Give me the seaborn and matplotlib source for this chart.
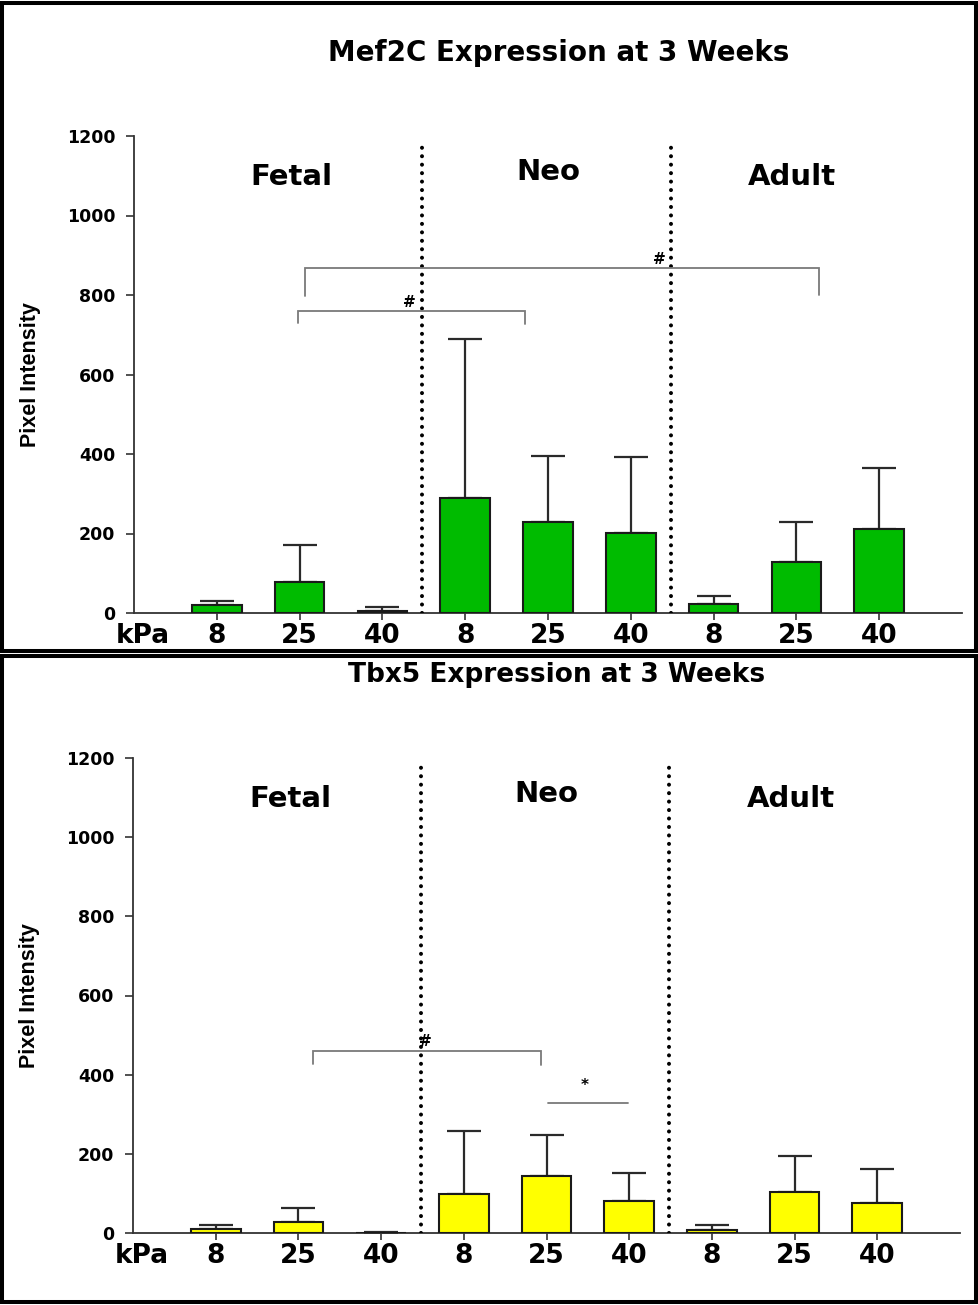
import matplotlib
matplotlib.use("Agg")
import matplotlib.pyplot as plt
from matplotlib.patches import Rectangle
import numpy as np
import pandas as pd
import seaborn as sns

# ---- data -------------------------------------------------------------
groups = ["Fetal", "Neo", "Adult"]
stiffness = ["8", "25", "40"]

mef2c_mean = [19, 79, 4, 290, 230, 201, 23, 129, 212]
mef2c_err = [12, 92, 10, 400, 164, 191, 21, 100, 152]

tbx5_mean = [10, 27, 1, 99, 143, 81, 7, 104, 77]
tbx5_err = [9, 36, 2, 158, 105, 71, 12, 91, 85]

titles = ["Mef2C Expression at 3 Weeks", "Tbx5 Expression at 3 Weeks"]
bar_colors = ["#00bb00", "#ffff00"]
y_ticks = [0, 200, 400, 600, 800, 1000, 1200]

# significance brackets: (x_left, x_right, y_line, y_drop_left, y_drop_right, label, label_x, label_y)
mef2c_brackets = [
    (0.98, 3.72, 759, 730, 728, "#", 2.32, 782),
    (1.06, 7.27, 867, 798, 800, "#", 5.34, 890),
]
tbx5_brackets = [
    (1.18, 3.93, 461, 428, 425, "#", 2.54, 483),
    (4.02, 4.99, 329, 329, 329, "*", 4.46, 372),
]

# ---- style ------------------------------------------------------------
sns.set_theme(style="ticks")
plt.rcParams["font.family"] = ["DejaVu Sans"]
plt.rcParams.update({
    "text.color": "black",
    "axes.labelcolor": "black",
    "xtick.color": "black",
    "ytick.color": "black",
})

fig = plt.figure(figsize=(9.79, 13.05), dpi=100)
W, H = 979.0, 1305.0
ax_top = fig.add_axes([134 / W, 1 - 613 / H, 828 / W, 477 / H])
ax_bot = fig.add_axes([133 / W, 1 - 1233 / H, 827 / W, 475 / H])

cats = [f"{g} {s}" for g in groups for s in stiffness]
tick_labels = [s for g in groups for s in stiffness]


def draw_panel(ax, means, errs, color, brackets):
    df = pd.DataFrame({"condition": cats, "intensity": means})
    sns.barplot(data=df, x="condition", y="intensity", order=cats,
                color=color, saturation=1, edgecolor="#1a1a1a", linewidth=1.5,
                width=0.6, errorbar=None, ax=ax, zorder=3)
    xs = np.arange(len(cats))
    ax.errorbar(xs, means, yerr=[np.zeros(len(errs)), errs], fmt="none",
                ecolor="#2a2a2a", elinewidth=1.6, capsize=12.5, capthick=1.6,
                zorder=2)

    ax.set_xlim(-1.0, 9.0)
    ax.set_ylim(0, 1200)
    ax.set_yticks(y_ticks)
    ax.set_yticklabels([str(v) for v in y_ticks], fontsize=12.5,
                       fontweight="bold")
    ax.set_xticks(xs)
    ax.set_xticklabels(tick_labels, fontsize=19, fontweight="bold")
    ax.tick_params(axis="y", direction="out", length=6, width=1.2,
                   pad=7.5, color="#333333")
    ax.tick_params(axis="x", direction="out", length=5, width=1.2,
                   pad=2.5, color="#333333")
    for side in ("top", "right"):
        ax.spines[side].set_visible(False)
    for side in ("left", "bottom"):
        ax.spines[side].set_linewidth(1.3)
        ax.spines[side].set_color("#333333")

    ax.set_xlabel("")
    ax.set_ylabel("Pixel Intensity", fontsize=15.5, fontweight="bold",
                  family=["Liberation Sans", "DejaVu Sans"])
    ax.yaxis.set_label_coords(-0.112, 0.5)

    ax.annotate("kPa", xy=(-0.89, 0), xycoords=("data", "axes fraction"),
                xytext=(0, -7.5), textcoords="offset points",
                ha="center", va="top", fontsize=19, fontweight="bold")

    # group dividers
    for xd in (2.48, 5.48):
        ax.plot([xd, xd], [0, 1180], color="black", lw=2.9,
                linestyle=(0, (0.01, 2.09)), dash_capstyle="round",
                zorder=4)

    # group names
    for name, gx, gy in zip(groups, (0.9, 4.0, 6.95), (1097, 1110, 1097)):
        ax.text(gx, gy, name, ha="center", va="center", fontsize=21,
                fontweight="bold")

    # significance brackets
    for x0, x1, yl, yd0, yd1, lab, lx, ly in brackets:
        ax.plot([x0, x0, x1, x1], [yd0, yl, yl, yd1], color="#7a7a7a",
                lw=1.3, zorder=5, solid_joinstyle="miter")
        ax.text(lx, ly, lab, ha="center", va="center", fontsize=11,
                fontweight="bold", zorder=6)


draw_panel(ax_top, mef2c_mean, mef2c_err, bar_colors[0], mef2c_brackets)
draw_panel(ax_bot, tbx5_mean, tbx5_err, bar_colors[1], tbx5_brackets)

fig.text(559 / W, 1 - 53 / H, titles[0], ha="center", va="center",
         fontsize=20, fontweight="bold")
fig.text(557 / W, 1 - 675 / H, titles[1], ha="center", va="center",
         fontsize=19, fontweight="bold")

# panel frames
lw_frame = 2.9
fig.add_artist(Rectangle((2 / W, 1 - 651 / H), 974 / W, (651 - 2.5) / H,
                         transform=fig.transFigure, fill=False,
                         edgecolor="black", linewidth=lw_frame))
fig.add_artist(Rectangle((2 / W, 1 - 1302 / H), 974 / W, (1302 - 655.5) / H,
                         transform=fig.transFigure, fill=False,
                         edgecolor="black", linewidth=lw_frame))

fig.savefig("out.png", dpi=100, facecolor="white")
